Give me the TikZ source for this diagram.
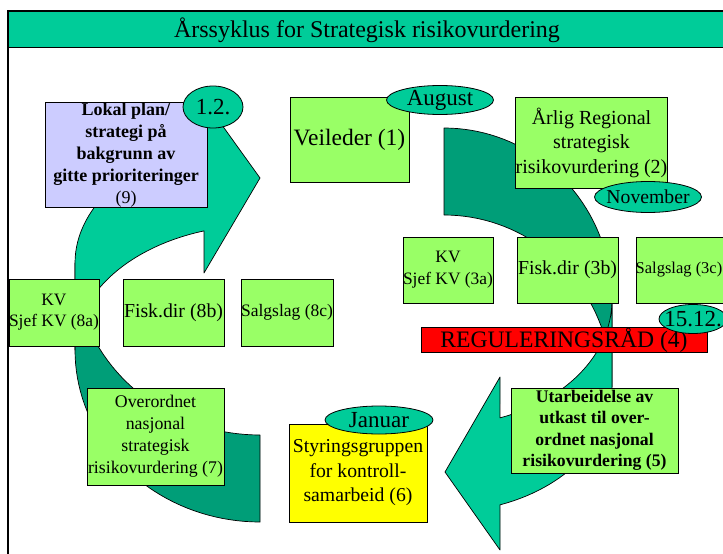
\documentclass[tikz,border=0pt]{standalone}
\usepackage{fontspec}
\setmainfont{Liberation Serif}
\usetikzlibrary{shapes.geometric}
\definecolor{tealA}{HTML}{00CC99}
\definecolor{dgreen}{HTML}{009E78}
\definecolor{lgreen}{HTML}{99FF66}
\definecolor{lav}{HTML}{CCCCFF}
\definecolor{yel}{HTML}{FFFF00}
\definecolor{redb}{HTML}{FF0000}
\begin{document}
\begin{tikzpicture}[x=1pt,y=-1pt,
  box/.style={draw=black, line width=0.8pt, inner sep=0pt, align=center, text=black},
  gbox/.style={box, fill=lgreen},
  ell/.style={ellipse, draw=black, line width=0.8pt, fill=tealA, inner sep=0pt},
  darkband/.style={fill=dgreen, draw=black, line width=0.7pt, line join=round},
  lightband/.style={fill=tealA, draw=black, line width=0.7pt, line join=round},
]
\useasboundingbox (0,0) rectangle (723,554);
\clip (0,0) rectangle (723,554);
\fill[white] (0,0) rectangle (723,554);

% frame and title bar
\fill[tealA] (8,11) rectangle (760,47);
\draw[line width=1pt] (8,47) -- (760,47);
\draw[line width=2.2pt] (8,600) -- (8,11) -- (760,11);
\node[font=\fontsize{24}{28}\selectfont] (title) at (367,30) {Årssyklus for Strategisk risikovurdering};

% right curved arrow (back and front)
\path[darkband] (444,128)
  -- plot[domain=270:360, samples=40] ({444+168*cos(\x)}, {300+172*sin(\x)})
  -- (612,387)
  -- plot[domain=360:270, samples=40] ({444+168*cos(\x)}, {387+172*sin(\x)})
  -- cycle;
\path[lightband] (612,300)
  -- plot[domain=0:70.53, samples=30] ({444+168*cos(\x)}, {300+125*sin(\x)})
  -- (500,377) -- (445,472) -- (500,550)
  -- plot[domain=70.53:0, samples=30] ({444+168*cos(\x)}, {387+125*sin(\x)})
  -- cycle;

% left curved arrow (back and front)
\path[darkband] (260,522)
  -- plot[domain=90:180, samples=40] ({260+185*cos(\x)}, {350+172*sin(\x)})
  -- (75,263)
  -- plot[domain=180:90, samples=40] ({260+185*cos(\x)}, {263+172*sin(\x)})
  -- cycle;
\path[lightband] (75,350)
  -- plot[domain=180:252.38, samples=30] ({260+185*cos(\x)}, {350+125*sin(\x)})
  -- (204,273) -- (260,178) -- (204,100)
  -- plot[domain=252.38:180, samples=30] ({260+185*cos(\x)}, {263+125*sin(\x)})
  -- cycle;

% boxes
\node[box, fill=lav, minimum width=162, minimum height=104, font=\fontsize{18}{22}\selectfont] (b9) at (126,155)
  {\textbf{Lokal plan/}\\\textbf{strategi på}\\\textbf{bakgrunn av}\\\textbf{gitte prioriteringer}\\(9)};
\node[gbox, minimum width=119, minimum height=85, font=\fontsize{23.5}{28}\selectfont] (b1) at (349.5,139.5) {Veileder (1)};
\node[gbox, minimum width=149, minimum height=91, font=\fontsize{20}{24.5}\selectfont] (b2) at (591.5,142.5)
  {Årlig Regional\\strategisk\\risikovurdering (2)};
\node[gbox, minimum width=90, minimum height=66, font=\fontsize{17.4}{22}\selectfont] (b3a) at (448,270) {KV\\Sjef KV (3a)};
\node[gbox, minimum width=101, minimum height=66, font=\fontsize{19.8}{24}\selectfont] (b3b) at (567.5,270) {Fisk.dir (3b)};
\node[gbox, minimum width=91, minimum height=66] (b3c) at (681.5,270) {};
\node[font=\fontsize{16.5}{20}\selectfont, inner sep=0pt] (b3ct) at (679,270) {Salgslag (3c)};
\node[box, fill=redb, minimum width=286, minimum height=24, font=\fontsize{23.6}{26}\selectfont] (b4) at (564,340) {REGULERINGSRÅD (4)};
\node[gbox, minimum width=90, minimum height=67, font=\fontsize{17.4}{21}\selectfont] (b8a) at (54,312.5) {KV\\Sjef KV (8a)};
\node[gbox, minimum width=101, minimum height=67, font=\fontsize{19.8}{24}\selectfont] (b8b) at (173.5,312.5) {Fisk.dir (8b)};
\node[gbox, minimum width=90, minimum height=67, font=\fontsize{17.5}{22}\selectfont] (b8c) at (287,312.5) {Salgslag (8c)};
\node[gbox, minimum width=137, minimum height=97, font=\fontsize{17.8}{22}\selectfont] (b7) at (155.5,436.5)
  {Overordnet\\nasjonal\\strategisk\\risikovurdering (7)};
\node[box, fill=yel, minimum width=138, minimum height=98, font=\fontsize{19.7}{24.5}\selectfont] (b6) at (358,473)
  {Styringsgruppen\\for kontroll-\\samarbeid (6)};
\node[gbox, minimum width=167, minimum height=85, font=\bfseries\fontsize{17.7}{21.5}\selectfont] (b5) at (594.5,430.5)
  {Utarbeidelse av\\utkast til over-\\ordnet nasjonal\\risikovurdering (5)};

% ellipses
\node[ell, minimum width=60, minimum height=42] (e12) at (213,107) {};
\node[font=\fontsize{23}{26}\selectfont, inner sep=0pt] (e12t) at (e12.center) {1.2.};
\node[ell, minimum width=107, minimum height=29] (eaug) at (440,100) {};
\node[font=\fontsize{23}{26}\selectfont, inner sep=0pt] (eaugt) at (eaug.center) {August};
\node[ell, minimum width=107, minimum height=31] (enov) at (648,197) {};
\node[font=\fontsize{19.7}{23}\selectfont, inner sep=0pt] (enovt) at (enov.center) {November};
\node[ell, minimum width=68, minimum height=29] (e1512) at (693,319) {};
\node[font=\fontsize{23}{26}\selectfont, inner sep=0pt] (e1512t) at (e1512.center) {15.12.};
\node[ell, minimum width=108, minimum height=28] (ejan) at (379,420) {};
\node[font=\fontsize{23}{26}\selectfont, inner sep=0pt] (ejant) at (ejan.center) {Januar};
\end{tikzpicture}
\end{document}
